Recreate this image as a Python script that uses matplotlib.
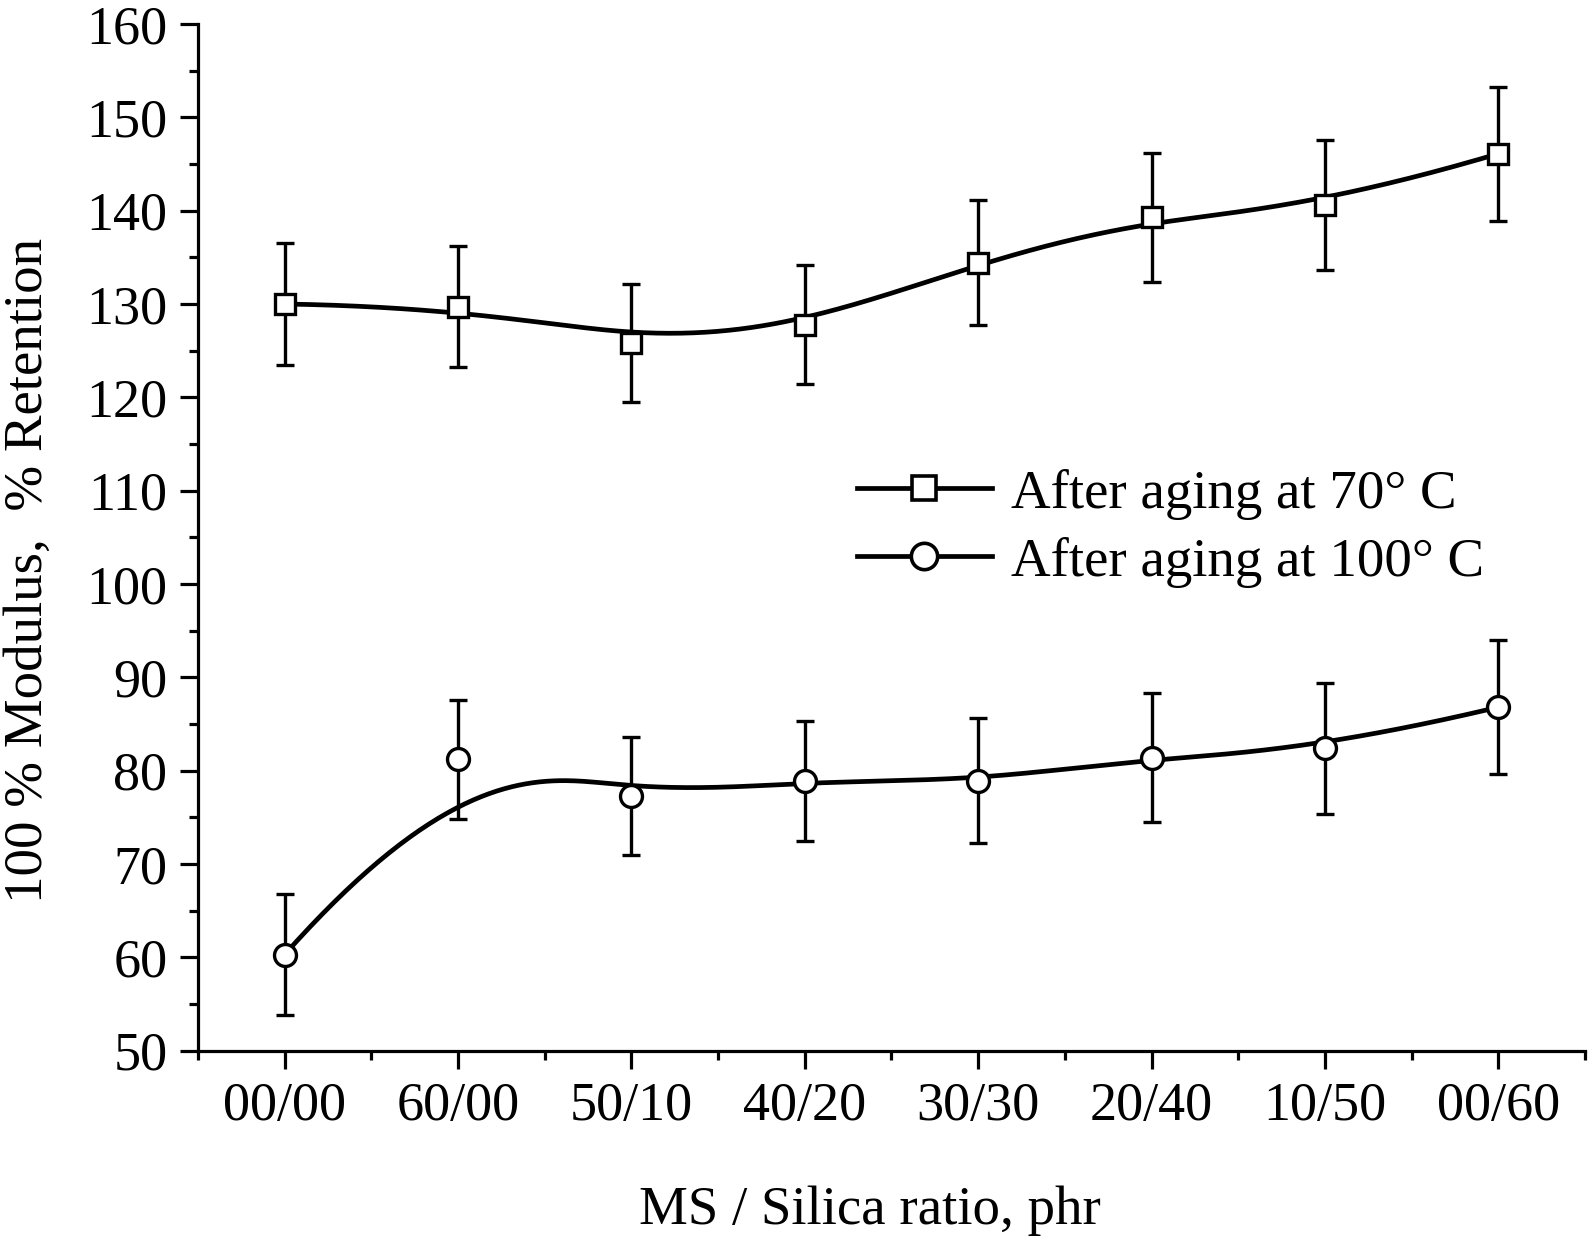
import numpy as np
import matplotlib
matplotlib.use('Agg')
import matplotlib.pyplot as plt
from matplotlib.ticker import MultipleLocator, FixedLocator

categories = ['00/00', '60/00', '50/10', '40/20', '30/30', '20/40', '10/50', '00/60']
aged_70 = [130.0, 129.7, 125.8, 127.8, 134.4, 139.3, 140.6, 146.1]
aged_70_err = [6.5, 6.5, 6.3, 6.4, 6.7, 6.9, 7.0, 7.2]
aged_100 = [60.3, 81.2, 77.3, 78.9, 78.9, 81.4, 82.4, 86.8]
aged_100_err = [6.5, 6.4, 6.3, 6.4, 6.7, 6.9, 7.0, 7.2]


def bspline(px, py, n=400):
    """Clamped cubic B-spline using the points as control points."""
    k = 3
    m = len(px)
    knots = np.concatenate([np.zeros(k), np.arange(m - k + 1), np.full(k, m - k)]).astype(float)
    t = np.linspace(0, m - k, n)
    t[-1] -= 1e-9
    # Cox-de Boor
    B = np.array([((knots[i] <= t) & (t < knots[i + 1])).astype(float)
                  for i in range(len(knots) - 1)])
    for d in range(1, k + 1):
        Bn = np.zeros((len(knots) - 1 - d, len(t)))
        for i in range(len(knots) - 1 - d):
            a = knots[i + d] - knots[i]
            b = knots[i + d + 1] - knots[i + 1]
            left = (t - knots[i]) / a * B[i] if a > 0 else 0
            right = (knots[i + d + 1] - t) / b * B[i + 1] if b > 0 else 0
            Bn[i] = left + right
        B = Bn
    return B.T @ np.asarray(px, float), B.T @ np.asarray(py, float)


plt.rcParams['font.family'] = ['Liberation Serif', 'DejaVu Serif']

fig = plt.figure(figsize=(15.95, 12.43), dpi=100)
ax = fig.add_axes([0.1241, 0.1547, 0.8696, 0.826])

x = np.arange(len(categories))
lw = 3.4
elw = 2.4
fs = 39.5

for vals, errs, mk, lab in [(aged_70, aged_70_err, 's', 'After aging at 70° C'),
                            (aged_100, aged_100_err, 'o', 'After aging at 100° C')]:
    ms = 14.6 if mk == 's' else 15.8
    sx, sy = bspline(x, vals)
    ax.plot(sx, sy, color='black', lw=lw, zorder=2)
    ax.errorbar(x, vals, yerr=errs, fmt='none', ecolor='black', elinewidth=elw,
                capsize=6.6, capthick=elw, zorder=3)
    ax.plot(x, vals, linestyle='none', marker=mk, markersize=ms,
            markerfacecolor='white', markeredgecolor='black', markeredgewidth=2.4, zorder=4)
    ax.plot([], [], color='black', lw=lw, marker=mk, markersize=ms * 1.2,
            markerfacecolor='white', markeredgecolor='black', markeredgewidth=2.6, label=lab)

ax.set_xlim(-0.5, len(categories) - 0.5)
ax.set_ylim(50, 160)
ax.set_xticks(x)
ax.set_xticklabels(categories)
ax.xaxis.set_minor_locator(FixedLocator(np.arange(-0.5, len(categories), 1.0)))
ax.yaxis.set_major_locator(MultipleLocator(10))
ax.yaxis.set_minor_locator(MultipleLocator(5))

for s in ['top', 'right']:
    ax.spines[s].set_visible(False)
for s in ['left', 'bottom']:
    ax.spines[s].set_linewidth(2.3)

ax.tick_params(which='major', direction='out', length=13, width=2.3, labelsize=39, pad=9)
ax.tick_params(which='minor', direction='out', length=6.5, width=2.3)

ax.set_xlabel('MS / Silica ratio, phr', fontsize=fs)
ax.set_ylabel('100 % Modulus,  % Retention', fontsize=fs)
ax.xaxis.set_label_coords(0.4845, -0.131)
ax.yaxis.set_label_coords(-0.104, 0.468)

ax.legend(loc='center left', bbox_to_anchor=(0.475, 0.509), frameon=False,
          fontsize=fs, handlelength=2.46, handletextpad=0.36, labelspacing=0.31,
          borderpad=0, borderaxespad=0)

plt.savefig('out.png', dpi=100)
plt.close()
